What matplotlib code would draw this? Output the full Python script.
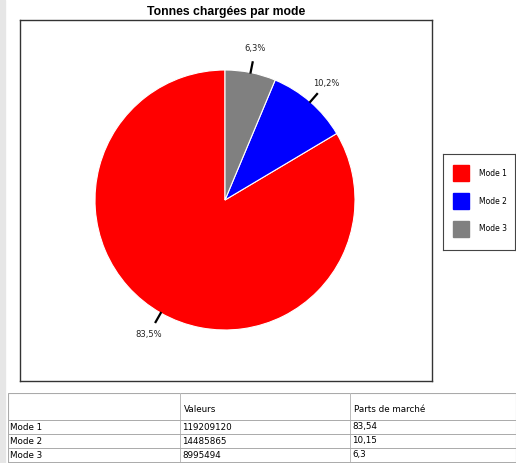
import numpy as np
import matplotlib.pyplot as plt
from matplotlib.patches import Rectangle

plt.rcParams['font.family'] = ['Liberation Sans', 'DejaVu Sans']

modes = ['Mode 1', 'Mode 2', 'Mode 3']
valeurs = [119209120, 14485865, 8995494]
parts = ['83,54', '10,15', '6,3']
couleurs = ['#ff0000', '#0000ff', '#808080']

W, H = 516, 463
fig = plt.figure(figsize=(W / 100, H / 100), dpi=100)

def fx(px):
    return px / W

def fy(py):
    return 1 - py / H

# cadre du graphique
cadre = fig.add_axes([fx(20), fy(381), fx(412), (381 - 20) / H])
cadre.set_xticks([])
cadre.set_yticks([])
for s in cadre.spines.values():
    s.set_linewidth(1.0)
    s.set_color('#333333')

fig.text(fx(226), fy(12), 'Tonnes chargées par mode', ha='center', va='center',
         fontsize=8.8, fontweight='bold')

# camembert
cx, cy, r = 225, 200, 130
half = 150
ax = fig.add_axes([fx(cx - half), fy(cy + half), 2 * half / W, 2 * half / H])
wedges, _ = ax.pie(valeurs, colors=couleurs, startangle=90, counterclock=True,
                   wedgeprops=dict(edgecolor='white', linewidth=0.8))
ax.set_xlim(-half / r, half / r)
ax.set_ylim(-half / r, half / r)
ax.axis('off')
total = sum(valeurs)
for w, v in zip(wedges, valeurs):
    ang = np.deg2rad((w.theta1 + w.theta2) / 2)
    ax.plot([1.0 * np.cos(ang), 1.08 * np.cos(ang)], [1.0 * np.sin(ang), 1.08 * np.sin(ang)],
            color='black', lw=1.6)
    lab = f'{100 * v / total:.1f}%'.replace('.', ',')
    ax.text(1.19 * np.cos(ang), 1.19 * np.sin(ang), lab, ha='center', va='center',
            fontsize=6, color='#222222', family='DejaVu Sans')

# légende
leg = fig.add_axes([fx(443), fy(250), fx(515 - 443), (250 - 154) / H])
leg.set_xlim(0, 72)
leg.set_ylim(96, 0)
leg.set_xticks([])
leg.set_yticks([])
for s in leg.spines.values():
    s.set_linewidth(0.8)
    s.set_color('#444444')
for i, (m, c) in enumerate(zip(modes, couleurs)):
    y0 = 19 + i * 28
    leg.add_patch(Rectangle((10, y0 - 8), 16, 16, color=c))
    leg.text(36, y0, m, va='center', ha='left', fontsize=5.5, family='DejaVu Sans')

# tableau
tab = fig.add_axes([fx(8), 0, fx(W - 8), (463 - 393) / H])
tab.set_xlim(8, W)
tab.set_ylim(463, 393)
tab.axis('off')
tab.add_patch(Rectangle((8, 393), W - 8, 70, facecolor='white', edgecolor='#aaaaaa', lw=0.8))
col_x = [8, 180, 350, W]
for x in col_x[1:-1]:
    tab.plot([x, x], [393, 463], color='#bbbbbb', lw=0.7)
lignes = [420, 434, 448, 462]
for y in lignes:
    tab.plot([8, W], [y, y], color='#aaaaaa', lw=0.7)
tab.text(184, 409, 'Valeurs', va='center', fontsize=6.3, family='DejaVu Sans')
tab.text(354, 409, 'Parts de marché', va='center', fontsize=6.3, family='DejaVu Sans')
for i, (m, v, p) in enumerate(zip(modes, valeurs, parts)):
    yc = 427 + i * 14
    tab.text(10, yc, m, va='center', fontsize=6.3, family='DejaVu Sans')
    tab.text(182, yc, str(v), va='center', fontsize=6.3, family='DejaVu Sans')
    tab.text(352, yc, p, va='center', fontsize=6.3, family='DejaVu Sans')

fig.patches.append(Rectangle((0, 0), fx(5), 1, transform=fig.transFigure,
                             color='#e6e6e6', zorder=-1))

fig.savefig('out.png', dpi=100)
